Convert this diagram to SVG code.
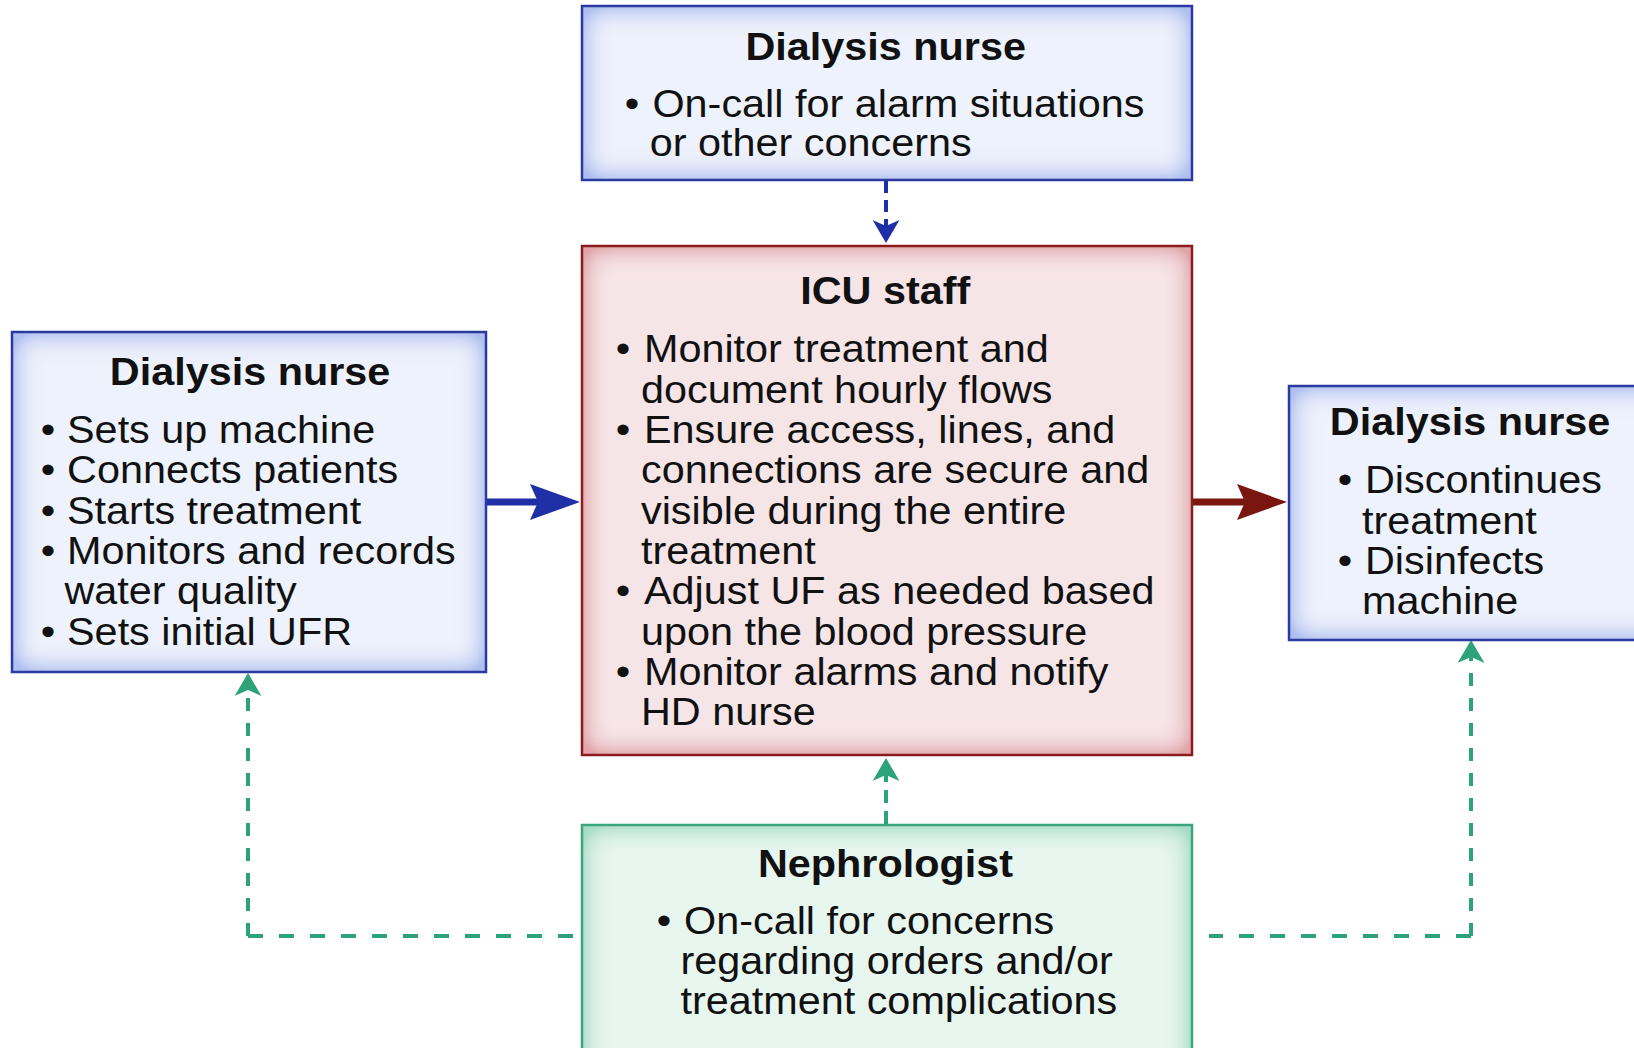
<svg xmlns="http://www.w3.org/2000/svg" width="1634" height="1048" viewBox="0 0 1634 1048">
<style>
text{font-family:"Liberation Sans",Arial,Helvetica,sans-serif;fill:#111;}
.t{font-size:38.5px;font-weight:bold;text-anchor:middle;}
.b{font-size:38.5px;}
.bul{font-size:38.5px;text-anchor:middle;}
.blueBox{stroke:#2b3a9e;stroke-width:2.5;fill:none;}
.redBox{stroke:#8a1c1c;stroke-width:2.5;fill:none;}
.greenBox{stroke:#3aa57f;stroke-width:2.5;fill:none;}
.gdash{stroke:#2ea37a;stroke-width:4;fill:none;}
</style>
<defs>
<filter id="glowBlue" x="0" y="0" width="1" height="1">
<feFlood flood-color="#aebff0" result="edge"/>
<feGaussianBlur in="SourceAlpha" stdDeviation="14" result="blur"/>
<feComponentTransfer in="blur" result="mask"><feFuncA type="linear" slope="1.7" intercept="-0.75"/></feComponentTransfer>
<feFlood flood-color="#f1f4fc"/>
<feComposite in2="mask" operator="in" result="center"/>
<feMerge><feMergeNode in="edge"/><feMergeNode in="center"/></feMerge>
</filter>
<filter id="glowRed" x="0" y="0" width="1" height="1">
<feFlood flood-color="#e0a4a9" result="edge"/>
<feGaussianBlur in="SourceAlpha" stdDeviation="14" result="blur"/>
<feComponentTransfer in="blur" result="mask"><feFuncA type="linear" slope="1.7" intercept="-0.75"/></feComponentTransfer>
<feFlood flood-color="#f7e8ea"/>
<feComposite in2="mask" operator="in" result="center"/>
<feMerge><feMergeNode in="edge"/><feMergeNode in="center"/></feMerge>
</filter>
<filter id="glowGreen" x="0" y="0" width="1" height="1">
<feFlood flood-color="#a6dcc8" result="edge"/>
<feGaussianBlur in="SourceAlpha" stdDeviation="14" result="blur"/>
<feComponentTransfer in="blur" result="mask"><feFuncA type="linear" slope="1.7" intercept="-0.75"/></feComponentTransfer>
<feFlood flood-color="#ebf7f2"/>
<feComposite in2="mask" operator="in" result="center"/>
<feMerge><feMergeNode in="edge"/><feMergeNode in="center"/></feMerge>
</filter>
<marker id="bigBlue" markerUnits="userSpaceOnUse" markerWidth="50" markerHeight="36" viewBox="0 0 50 36" refX="8" refY="18" orient="auto">
<path d="M0,0 L50,18 L0,36 L8,18 Z" fill="#1f2fa6"/>
</marker>
<marker id="bigRed" markerUnits="userSpaceOnUse" markerWidth="50" markerHeight="36" viewBox="0 0 50 36" refX="8" refY="18" orient="auto">
<path d="M0,0 L50,18 L0,36 L8,18 Z" fill="#7a1510"/>
</marker>
<marker id="smBlue" markerUnits="userSpaceOnUse" markerWidth="23" markerHeight="27" viewBox="0 0 23 27" refX="6" refY="13.5" orient="auto">
<path d="M0,0 L23,13.5 L0,27 L6,13.5 Z" fill="#1f2fa6"/>
</marker>
<marker id="smGreen" markerUnits="userSpaceOnUse" markerWidth="23" markerHeight="27" viewBox="0 0 23 27" refX="6" refY="13.5" orient="auto">
<path d="M0,0 L23,13.5 L0,27 L6,13.5 Z" fill="#2ea37a"/>
</marker>
</defs>
<rect width="1634" height="1048" fill="#ffffff"/>

<g id="connectors">
<line x1="486" y1="502" x2="538" y2="502" stroke="#1f2fa6" stroke-width="7" marker-end="url(#bigBlue)"/>
<line x1="1193" y1="502" x2="1245" y2="502" stroke="#7a1510" stroke-width="7" marker-end="url(#bigRed)"/>
<line x1="886" y1="181" x2="886" y2="226" stroke="#1f2fa6" stroke-width="4" stroke-dasharray="12 7" marker-end="url(#smBlue)"/>
<line x1="886" y1="824" x2="886" y2="775" class="gdash" stroke-dasharray="13 8" marker-end="url(#smGreen)"/>
<path d="M248,936 L248,690" class="gdash" stroke-dasharray="13 12" marker-end="url(#smGreen)"/>
<path d="M248,936 L573,936" class="gdash" stroke-dasharray="15 16"/>
<path d="M1471,936 L1471,657" class="gdash" stroke-dasharray="13 12" marker-end="url(#smGreen)"/>
<path d="M1471,936 L1209,936" class="gdash" stroke-dasharray="15 16"/>
</g>

<g id="node-top">
<rect x="582" y="6" width="610" height="174" fill="#fff" filter="url(#glowBlue)"/>
<rect x="582" y="6" width="610" height="174" class="blueBox"/>
<g transform="translate(632,2.5) scale(1.075,1)">
<text class="t" x="236" y="58">Dialysis nurse</text>
<text class="bul" x="0" y="115">•</text>
<text class="b" x="19" y="115">On-call for alarm situations</text>
<text class="b" x="16.5" y="154">or other concerns</text>
</g>
</g>

<g id="node-icu">
<rect x="582" y="246" width="610" height="509" fill="#fff" filter="url(#glowRed)"/>
<rect x="582" y="246" width="610" height="509" class="redBox"/>
<g transform="translate(623,2.5) scale(1.075,1)">
<text class="t" x="244" y="302">ICU staff</text>
<text class="bul" x="0" y="360">•</text>
<text class="b" x="19.5" y="360">Monitor treatment and</text>
<text class="b" x="16.7" y="400.3">document hourly flows</text>
<text class="bul" x="0" y="440.6">•</text>
<text class="b" x="19.5" y="440.6">Ensure access, lines, and</text>
<text class="b" x="16.7" y="480.9">connections are secure and</text>
<text class="b" x="16.7" y="521.2">visible during the entire</text>
<text class="b" x="16.7" y="561.5">treatment</text>
<text class="bul" x="0" y="601.8">•</text>
<text class="b" x="19.5" y="601.8">Adjust UF as needed based</text>
<text class="b" x="16.7" y="642.1">upon the blood pressure</text>
<text class="bul" x="0" y="682.4">•</text>
<text class="b" x="19.5" y="682.4">Monitor alarms and notify</text>
<text class="b" x="16.7" y="722.7">HD nurse</text>
</g>
</g>

<g id="node-left">
<rect x="12" y="332" width="474" height="340" fill="#fff" filter="url(#glowBlue)"/>
<rect x="12" y="332" width="474" height="340" class="blueBox"/>
<g transform="translate(48,2.5) scale(1.075,1)">
<text class="t" x="188" y="383">Dialysis nurse</text>
<text class="bul" x="0" y="440.6">•</text>
<text class="b" x="17.7" y="440.6">Sets up machine</text>
<text class="bul" x="0" y="480.9">•</text>
<text class="b" x="17.7" y="480.9">Connects patients</text>
<text class="bul" x="0" y="521.2">•</text>
<text class="b" x="17.7" y="521.2">Starts treatment</text>
<text class="bul" x="0" y="561.5">•</text>
<text class="b" x="17.7" y="561.5">Monitors and records</text>
<text class="b" x="15.3" y="601.8">water quality</text>
<text class="bul" x="0" y="642.1">•</text>
<text class="b" x="17.7" y="642.1">Sets initial UFR</text>
</g>
</g>

<g id="node-right">
<rect x="1289" y="386" width="400" height="254" fill="#fff" filter="url(#glowBlue)"/>
<rect x="1289" y="386" width="400" height="254" class="blueBox"/>
<g transform="translate(1345,2.5) scale(1.075,1)">
<text class="t" x="116.3" y="433">Dialysis nurse</text>
<text class="bul" x="0" y="491">•</text>
<text class="b" x="18.6" y="491">Discontinues</text>
<text class="b" x="15.8" y="531.3">treatment</text>
<text class="bul" x="0" y="571.6">•</text>
<text class="b" x="18.6" y="571.6">Disinfects</text>
<text class="b" x="15.8" y="611.9">machine</text>
</g>
</g>

<g id="node-nephrologist">
<rect x="582" y="825" width="610" height="260" fill="#fff" filter="url(#glowGreen)"/>
<rect x="582" y="825" width="610" height="260" class="greenBox"/>
<g transform="translate(664,2.5) scale(1.075,1)">
<text class="t" x="206" y="875">Nephrologist</text>
<text class="bul" x="0" y="932">•</text>
<text class="b" x="18.6" y="932">On-call for concerns</text>
<text class="b" x="15.3" y="972">regarding orders and/or</text>
<text class="b" x="15.3" y="1012">treatment complications</text>
</g>
</g>
</svg>
